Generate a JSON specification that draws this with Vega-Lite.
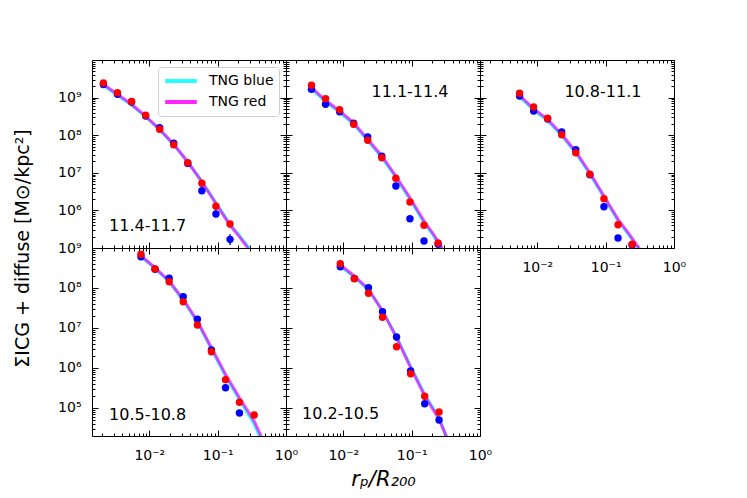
{
  "$schema": "https://vega.github.io/schema/vega-lite/v6.json",
  "description": "Projected ICG + diffuse light surface density profiles in five halo-mass bins, TNG blue vs red.",
  "padding": {"left": 12, "top": 59, "right": 5, "bottom": 5},
  "spacing": 0,
  "bounds": "flush",
  "columns": 3,
  "data": {
    "values": [
      {"p": 1, "s": "TNG blue", "r": 0.002128, "v": 2.11e9},
      {"p": 1, "s": "TNG blue", "r": 0.00342, "v": 1.148e9},
      {"p": 1, "s": "TNG blue", "r": 0.0055, "v": 6.31e8},
      {"p": 1, "s": "TNG blue", "r": 0.00883, "v": 3.09e8},
      {"p": 1, "s": "TNG blue", "r": 0.01416, "v": 1.38e8},
      {"p": 1, "s": "TNG blue", "r": 0.02275, "v": 5.62e7},
      {"p": 1, "s": "TNG blue", "r": 0.03656, "v": 1.95e7},
      {"p": 1, "s": "TNG blue", "r": 0.05875, "v": 5.96e6},
      {"p": 1, "s": "TNG blue", "r": 0.0944, "v": 1.585e6},
      {"p": 1, "s": "TNG blue", "r": 0.1517, "v": 4.32e5},
      {"p": 1, "s": "TNG blue", "r": 0.21, "v": 2.1e5},
      {"p": 1, "s": "TNG blue", "r": 0.2793, "v": 1.07e5},
      {"p": 1, "s": "TNG blue", "r": 0.316, "v": 7.94e4},
      {"p": 1, "s": "TNG red", "r": 0.002128, "v": 2.26e9},
      {"p": 1, "s": "TNG red", "r": 0.00342, "v": 1.224e9},
      {"p": 1, "s": "TNG red", "r": 0.0055, "v": 6.64e8},
      {"p": 1, "s": "TNG red", "r": 0.00883, "v": 3.24e8},
      {"p": 1, "s": "TNG red", "r": 0.01416, "v": 1.436e8},
      {"p": 1, "s": "TNG red", "r": 0.02275, "v": 5.73e7},
      {"p": 1, "s": "TNG red", "r": 0.03656, "v": 1.936e7},
      {"p": 1, "s": "TNG red", "r": 0.05875, "v": 5.79e6},
      {"p": 1, "s": "TNG red", "r": 0.0944, "v": 1.507e6},
      {"p": 1, "s": "TNG red", "r": 0.1517, "v": 4.02e5},
      {"p": 1, "s": "TNG red", "r": 0.21, "v": 1.95e5},
      {"p": 1, "s": "TNG red", "r": 0.2793, "v": 9.77e4},
      {"p": 1, "s": "TNG red", "r": 0.316, "v": 7.08e4},
      {"p": 1, "s": "blue", "r": 0.002128, "v": 2.24e9},
      {"p": 1, "s": "blue", "r": 0.00342, "v": 1.224e9},
      {"p": 1, "s": "blue", "r": 0.0055, "v": 7.6e8},
      {"p": 1, "s": "blue", "r": 0.00883, "v": 3.24e8},
      {"p": 1, "s": "blue", "r": 0.01416, "v": 1.585e8},
      {"p": 1, "s": "blue", "r": 0.02275, "v": 6.17e7},
      {"p": 1, "s": "blue", "r": 0.03656, "v": 1.778e7},
      {"p": 1, "s": "blue", "r": 0.05875, "v": 3.34e6, "lo": 2.78e6, "hi": 4.19e6},
      {"p": 1, "s": "blue", "r": 0.0944, "v": 8.02e5, "lo": 6.6e5, "hi": 1.0e6},
      {"p": 1, "s": "blue", "r": 0.1517, "v": 1.7e5, "lo": 1.2e5, "hi": 2.31e5},
      {"p": 1, "s": "red", "r": 0.002128, "v": 2.44e9},
      {"p": 1, "s": "red", "r": 0.00342, "v": 1.35e9},
      {"p": 1, "s": "red", "r": 0.0055, "v": 7.91e8},
      {"p": 1, "s": "red", "r": 0.00883, "v": 3.38e8},
      {"p": 1, "s": "red", "r": 0.01416, "v": 1.436e8},
      {"p": 1, "s": "red", "r": 0.02275, "v": 5.58e7},
      {"p": 1, "s": "red", "r": 0.03656, "v": 1.858e7},
      {"p": 1, "s": "red", "r": 0.05875, "v": 5.26e6},
      {"p": 1, "s": "red", "r": 0.0944, "v": 1.285e6},
      {"p": 1, "s": "red", "r": 0.1517, "v": 4.35e5},

      {"p": 2, "s": "TNG blue", "r": 0.00342, "v": 1.698e9},
      {"p": 2, "s": "TNG blue", "r": 0.0055, "v": 7.85e8},
      {"p": 2, "s": "TNG blue", "r": 0.00883, "v": 4.07e8},
      {"p": 2, "s": "TNG blue", "r": 0.01416, "v": 1.98e8},
      {"p": 2, "s": "TNG blue", "r": 0.02275, "v": 7.16e7},
      {"p": 2, "s": "TNG blue", "r": 0.03656, "v": 2.57e7},
      {"p": 2, "s": "TNG blue", "r": 0.05875, "v": 7.5e6},
      {"p": 2, "s": "TNG blue", "r": 0.0944, "v": 1.98e6},
      {"p": 2, "s": "TNG blue", "r": 0.1517, "v": 4.7e5},
      {"p": 2, "s": "TNG blue", "r": 0.21, "v": 2.1e5},
      {"p": 2, "s": "TNG blue", "r": 0.2793, "v": 8.91e4},
      {"p": 2, "s": "TNG blue", "r": 0.316, "v": 6.61e4},
      {"p": 2, "s": "TNG red", "r": 0.00342, "v": 1.832e9},
      {"p": 2, "s": "TNG red", "r": 0.0055, "v": 8.47e8},
      {"p": 2, "s": "TNG red", "r": 0.00883, "v": 4.41e8},
      {"p": 2, "s": "TNG red", "r": 0.01416, "v": 2.14e8},
      {"p": 2, "s": "TNG red", "r": 0.02275, "v": 7.76e7},
      {"p": 2, "s": "TNG red", "r": 0.03656, "v": 2.8e7},
      {"p": 2, "s": "TNG red", "r": 0.05875, "v": 8.22e6},
      {"p": 2, "s": "TNG red", "r": 0.0944, "v": 2.18e6},
      {"p": 2, "s": "TNG red", "r": 0.1517, "v": 5.22e5},
      {"p": 2, "s": "TNG red", "r": 0.21, "v": 2.29e5},
      {"p": 2, "s": "TNG red", "r": 0.2793, "v": 9.77e4},
      {"p": 2, "s": "TNG red", "r": 0.316, "v": 7.24e4},
      {"p": 2, "s": "blue", "r": 0.00342, "v": 1.663e9},
      {"p": 2, "s": "blue", "r": 0.0055, "v": 6.64e8},
      {"p": 2, "s": "blue", "r": 0.00883, "v": 4.22e8},
      {"p": 2, "s": "blue", "r": 0.01416, "v": 2.07e8},
      {"p": 2, "s": "blue", "r": 0.02275, "v": 8.95e7},
      {"p": 2, "s": "blue", "r": 0.03656, "v": 2.75e7},
      {"p": 2, "s": "blue", "r": 0.05875, "v": 4.46e6},
      {"p": 2, "s": "blue", "r": 0.0944, "v": 6.01e5},
      {"p": 2, "s": "blue", "r": 0.1517, "v": 1.535e5},
      {"p": 2, "s": "blue", "r": 0.2438, "v": 1.26e5},
      {"p": 2, "s": "red", "r": 0.00342, "v": 2.12e9},
      {"p": 2, "s": "red", "r": 0.0055, "v": 9.35e8},
      {"p": 2, "s": "red", "r": 0.00883, "v": 4.76e8},
      {"p": 2, "s": "red", "r": 0.01416, "v": 1.95e8},
      {"p": 2, "s": "red", "r": 0.02275, "v": 7.31e7},
      {"p": 2, "s": "red", "r": 0.03656, "v": 2.52e7},
      {"p": 2, "s": "red", "r": 0.05875, "v": 7.14e6},
      {"p": 2, "s": "red", "r": 0.0944, "v": 1.671e6},
      {"p": 2, "s": "red", "r": 0.1517, "v": 4.02e5},
      {"p": 2, "s": "red", "r": 0.2438, "v": 1.358e5},

      {"p": 3, "s": "TNG blue", "r": 0.0055, "v": 1.062e9},
      {"p": 3, "s": "TNG blue", "r": 0.00883, "v": 4.68e8},
      {"p": 3, "s": "TNG blue", "r": 0.01416, "v": 2.45e8},
      {"p": 3, "s": "TNG blue", "r": 0.02275, "v": 9.75e7},
      {"p": 3, "s": "TNG blue", "r": 0.03656, "v": 3.36e7},
      {"p": 3, "s": "TNG blue", "r": 0.05875, "v": 9.3e6},
      {"p": 3, "s": "TNG blue", "r": 0.0944, "v": 2.23e6},
      {"p": 3, "s": "TNG blue", "r": 0.1517, "v": 5.35e5},
      {"p": 3, "s": "TNG blue", "r": 0.22, "v": 2.2e5},
      {"p": 3, "s": "TNG blue", "r": 0.309, "v": 9.0e4},
      {"p": 3, "s": "TNG blue", "r": 0.35, "v": 6.5e4},
      {"p": 3, "s": "TNG red", "r": 0.0055, "v": 1.151e9},
      {"p": 3, "s": "TNG red", "r": 0.00883, "v": 5.07e8},
      {"p": 3, "s": "TNG red", "r": 0.01416, "v": 2.65e8},
      {"p": 3, "s": "TNG red", "r": 0.02275, "v": 1.057e8},
      {"p": 3, "s": "TNG red", "r": 0.03656, "v": 3.64e7},
      {"p": 3, "s": "TNG red", "r": 0.05875, "v": 1.007e7},
      {"p": 3, "s": "TNG red", "r": 0.0944, "v": 2.415e6},
      {"p": 3, "s": "TNG red", "r": 0.1517, "v": 5.79e5},
      {"p": 3, "s": "TNG red", "r": 0.22, "v": 2.38e5},
      {"p": 3, "s": "TNG red", "r": 0.309, "v": 9.77e4},
      {"p": 3, "s": "TNG red", "r": 0.35, "v": 7.08e4},
      {"p": 3, "s": "blue", "r": 0.0055, "v": 1.104e9},
      {"p": 3, "s": "blue", "r": 0.00883, "v": 4.41e8},
      {"p": 3, "s": "blue", "r": 0.01416, "v": 2.69e8},
      {"p": 3, "s": "blue", "r": 0.02275, "v": 1.216e8},
      {"p": 3, "s": "blue", "r": 0.03656, "v": 4.11e7},
      {"p": 3, "s": "blue", "r": 0.05875, "v": 8.91e6},
      {"p": 3, "s": "blue", "r": 0.0944, "v": 1.253e6},
      {"p": 3, "s": "blue", "r": 0.1517, "v": 1.845e5},
      {"p": 3, "s": "blue", "r": 0.2438, "v": 1.2e5},
      {"p": 3, "s": "red", "r": 0.0055, "v": 1.3e9},
      {"p": 3, "s": "red", "r": 0.00883, "v": 5.62e8},
      {"p": 3, "s": "red", "r": 0.01416, "v": 2.81e8},
      {"p": 3, "s": "red", "r": 0.02275, "v": 1.03e8},
      {"p": 3, "s": "red", "r": 0.03656, "v": 3.42e7},
      {"p": 3, "s": "red", "r": 0.05875, "v": 9.12e6},
      {"p": 3, "s": "red", "r": 0.0944, "v": 2.05e6},
      {"p": 3, "s": "red", "r": 0.1517, "v": 4.17e5},
      {"p": 3, "s": "red", "r": 0.2438, "v": 1.253e5},

      {"p": 4, "s": "TNG blue", "r": 0.00755, "v": 6.1e8},
      {"p": 4, "s": "TNG blue", "r": 0.01213, "v": 3.1e8},
      {"p": 4, "s": "TNG blue", "r": 0.0195, "v": 1.43e8},
      {"p": 4, "s": "TNG blue", "r": 0.03133, "v": 4.95e7},
      {"p": 4, "s": "TNG blue", "r": 0.0505, "v": 1.4e7},
      {"p": 4, "s": "TNG blue", "r": 0.0811, "v": 2.98e6},
      {"p": 4, "s": "TNG blue", "r": 0.1303, "v": 6.31e5},
      {"p": 4, "s": "TNG blue", "r": 0.2084, "v": 1.6e5},
      {"p": 4, "s": "TNG blue", "r": 0.342, "v": 4.0e4},
      {"p": 4, "s": "TNG blue", "r": 0.4395, "v": 1.5e4},
      {"p": 4, "s": "TNG red", "r": 0.00755, "v": 6.31e8},
      {"p": 4, "s": "TNG red", "r": 0.01213, "v": 3.22e8},
      {"p": 4, "s": "TNG red", "r": 0.0195, "v": 1.496e8},
      {"p": 4, "s": "TNG red", "r": 0.03133, "v": 5.22e7},
      {"p": 4, "s": "TNG red", "r": 0.0505, "v": 1.496e7},
      {"p": 4, "s": "TNG red", "r": 0.0811, "v": 3.22e6},
      {"p": 4, "s": "TNG red", "r": 0.1303, "v": 6.97e5},
      {"p": 4, "s": "TNG red", "r": 0.2084, "v": 1.811e5},
      {"p": 4, "s": "TNG red", "r": 0.342, "v": 4.73e4},
      {"p": 4, "s": "TNG red", "r": 0.4395, "v": 1.884e4},
      {"p": 4, "s": "blue", "r": 0.00755, "v": 6.07e8},
      {"p": 4, "s": "blue", "r": 0.01213, "v": 2.95e8},
      {"p": 4, "s": "blue", "r": 0.0195, "v": 1.75e8},
      {"p": 4, "s": "blue", "r": 0.03133, "v": 6.07e7},
      {"p": 4, "s": "blue", "r": 0.0505, "v": 1.652e7},
      {"p": 4, "s": "blue", "r": 0.0811, "v": 2.82e6},
      {"p": 4, "s": "blue", "r": 0.1303, "v": 3.22e5},
      {"p": 4, "s": "blue", "r": 0.2084, "v": 7.5e4},
      {"p": 4, "s": "red", "r": 0.00755, "v": 6.95e8},
      {"p": 4, "s": "red", "r": 0.01213, "v": 2.985e8},
      {"p": 4, "s": "red", "r": 0.0195, "v": 1.439e8},
      {"p": 4, "s": "red", "r": 0.03133, "v": 4.55e7},
      {"p": 4, "s": "red", "r": 0.0505, "v": 1.189e7},
      {"p": 4, "s": "red", "r": 0.0811, "v": 2.56e6},
      {"p": 4, "s": "red", "r": 0.1303, "v": 5.11e5},
      {"p": 4, "s": "red", "r": 0.2084, "v": 1.39e5},
      {"p": 4, "s": "red", "r": 0.342, "v": 6.68e4},

      {"p": 5, "s": "TNG blue", "r": 0.00904, "v": 3.5e8},
      {"p": 5, "s": "TNG blue", "r": 0.01452, "v": 1.9e8},
      {"p": 5, "s": "TNG blue", "r": 0.02333, "v": 9.0e7},
      {"p": 5, "s": "TNG blue", "r": 0.0375, "v": 2.7e7},
      {"p": 5, "s": "TNG blue", "r": 0.0601, "v": 6.0e6},
      {"p": 5, "s": "TNG blue", "r": 0.0966, "v": 1.1e6},
      {"p": 5, "s": "TNG blue", "r": 0.1552, "v": 2.2e5},
      {"p": 5, "s": "TNG blue", "r": 0.2518, "v": 5.6e4},
      {"p": 5, "s": "TNG blue", "r": 0.3236, "v": 1.95e4},
      {"p": 5, "s": "TNG red", "r": 0.00904, "v": 3.76e8},
      {"p": 5, "s": "TNG red", "r": 0.01452, "v": 2.0e8},
      {"p": 5, "s": "TNG red", "r": 0.02333, "v": 9.29e7},
      {"p": 5, "s": "TNG red", "r": 0.0375, "v": 2.66e7},
      {"p": 5, "s": "TNG red", "r": 0.0601, "v": 5.73e6},
      {"p": 5, "s": "TNG red", "r": 0.0966, "v": 1.019e6},
      {"p": 5, "s": "TNG red", "r": 0.1552, "v": 2.0e5},
      {"p": 5, "s": "TNG red", "r": 0.2518, "v": 5.22e4},
      {"p": 5, "s": "TNG red", "r": 0.3236, "v": 1.884e4},
      {"p": 5, "s": "blue", "r": 0.00904, "v": 3.41e8},
      {"p": 5, "s": "blue", "r": 0.01452, "v": 1.74e8},
      {"p": 5, "s": "blue", "r": 0.02333, "v": 1.019e8},
      {"p": 5, "s": "blue", "r": 0.0375, "v": 2.56e7},
      {"p": 5, "s": "blue", "r": 0.0601, "v": 5.96e6},
      {"p": 5, "s": "blue", "r": 0.0966, "v": 8.41e5},
      {"p": 5, "s": "blue", "r": 0.1552, "v": 1.282e5},
      {"p": 5, "s": "blue", "r": 0.2518, "v": 5.01e4},
      {"p": 5, "s": "red", "r": 0.00904, "v": 4.06e8},
      {"p": 5, "s": "red", "r": 0.01452, "v": 1.71e8},
      {"p": 5, "s": "red", "r": 0.02333, "v": 7.38e7},
      {"p": 5, "s": "red", "r": 0.0375, "v": 1.854e7},
      {"p": 5, "s": "red", "r": 0.0601, "v": 3.41e6},
      {"p": 5, "s": "red", "r": 0.0966, "v": 7.21e5},
      {"p": 5, "s": "red", "r": 0.1552, "v": 1.963e5},
      {"p": 5, "s": "red", "r": 0.2518, "v": 7.94e4}
    ]
  },
  "concat": [
    {
      "width": 194,
      "height": 188,
      "resolve": {"axis": {"x": "independent", "y": "independent"}},
      "layer": [
        {
          "transform": [{"filter": "datum.p == 1 && datum.s == 'TNG blue'"}],
          "mark": {"type": "line", "strokeWidth": 3, "opacity": 0.85, "clip": true},
          "encoding": {
            "x": {"field": "r", "type": "quantitative", "scale": {"type": "log", "domain": [0.00145, 1], "nice": false},
              "axis": {"orient": "bottom", "labels": false, "title": null, "values": [0.01, 0.1, 1], "tickSize": -6}},
            "y": {"field": "v", "type": "quantitative", "scale": {"type": "log", "domain": [1e5, 1e10], "nice": false},
              "axis": {"orient": "left", "values": [1e6, 1e7, 1e8, 1e9], "tickSize": -6, "labelPadding": 17,
                "labelExpr": "datum.value == 1e6 ? '10⁶' : datum.value == 1e7 ? '10⁷' : datum.value == 1e8 ? '10⁸' : '10⁹'",
                "title": "ΣICG + diffuse [M⊙/kpc²]", "titleFontSize": 19, "titleAngle": 270, "titleX": -70, "titleY": 188, "titleAlign": "center", "titleBaseline": "middle"}},
            "color": {"field": "s", "type": "nominal", "title": null,
              "scale": {"domain": ["TNG blue", "TNG red"], "range": ["#00ffff", "#ff00ff"]},
              "legend": {"orient": "none", "legendX": 66, "legendY": 7, "symbolType": "stroke", "symbolSize": 1000, "symbolStrokeWidth": 4, "labelFontSize": 14, "labelOffset": 10, "padding": 5, "strokeColor": "#d0d0d0", "fillColor": "white", "cornerRadius": 3, "clipHeight": 18, "rowPadding": 3}}
          }
        },
        {
          "transform": [{"filter": "datum.p == 1 && datum.s == 'TNG red'"}],
          "mark": {"type": "line", "strokeWidth": 3, "opacity": 0.7, "clip": true},
          "encoding": {
            "x": {"field": "r", "type": "quantitative", "axis": {"orient": "top", "labels": false, "title": null, "values": [0.01, 0.1, 1], "tickSize": -6}},
            "y": {"field": "v", "type": "quantitative", "axis": {"orient": "right", "labels": false, "title": null, "values": [1e6, 1e7, 1e8, 1e9], "tickSize": -6}},
            "color": {"field": "s", "type": "nominal", "title": null,
              "scale": {"domain": ["TNG blue", "TNG red"], "range": ["#00ffff", "#ff00ff"]},
              "legend": {"orient": "none", "legendX": 66, "legendY": 7, "symbolType": "stroke", "symbolSize": 1000, "symbolStrokeWidth": 4, "labelFontSize": 14, "labelOffset": 10, "padding": 5, "strokeColor": "#d0d0d0", "fillColor": "white", "cornerRadius": 3, "clipHeight": 18, "rowPadding": 3}}
          }
        },
        {
          "transform": [{"filter": "datum.p == 1 && datum.s == 'blue' && isValid(datum.lo)"}],
          "mark": {"type": "rule", "color": "#0000ff", "strokeWidth": 1.5},
          "encoding": {
            "x": {"field": "r", "type": "quantitative", "axis": null},
            "y": {"field": "lo", "type": "quantitative", "axis": null},
            "y2": {"field": "hi"}
          }
        },
        {
          "transform": [{"filter": "datum.p == 1 && datum.s == 'blue'"}],
          "mark": {"type": "circle", "color": "#0000ff", "size": 55, "opacity": 1},
          "encoding": {
            "x": {"field": "r", "type": "quantitative", "axis": {"orient": "bottom", "labels": false, "title": null, "tickSize": -3, "values": [0.002,0.003,0.004,0.005,0.006,0.007,0.008,0.009,0.02,0.03,0.04,0.05,0.06,0.07,0.08,0.09,0.2,0.3,0.4,0.5,0.6,0.7,0.8,0.9]}},
            "y": {"field": "v", "type": "quantitative", "axis": {"orient": "left", "labels": false, "title": null, "tickSize": -3, "values": [2e5,3e5,4e5,5e5,6e5,7e5,8e5,9e5,2e6,3e6,4e6,5e6,6e6,7e6,8e6,9e6,2e7,3e7,4e7,5e7,6e7,7e7,8e7,9e7,2e8,3e8,4e8,5e8,6e8,7e8,8e8,9e8,2e9,3e9,4e9,5e9,6e9,7e9,8e9,9e9]}}
          }
        },
        {
          "transform": [{"filter": "datum.p == 1 && datum.s == 'red'"}],
          "mark": {"type": "circle", "color": "#ff0000", "size": 55, "opacity": 1},
          "encoding": {
            "x": {"field": "r", "type": "quantitative", "axis": {"orient": "top", "labels": false, "title": null, "tickSize": -3, "values": [0.002,0.003,0.004,0.005,0.006,0.007,0.008,0.009,0.02,0.03,0.04,0.05,0.06,0.07,0.08,0.09,0.2,0.3,0.4,0.5,0.6,0.7,0.8,0.9]}},
            "y": {"field": "v", "type": "quantitative", "axis": {"orient": "right", "labels": false, "title": null, "tickSize": -3, "values": [2e5,3e5,4e5,5e5,6e5,7e5,8e5,9e5,2e6,3e6,4e6,5e6,6e6,7e6,8e6,9e6,2e7,3e7,4e7,5e7,6e7,7e7,8e7,9e7,2e8,3e8,4e8,5e8,6e8,7e8,8e8,9e8,2e9,3e9,4e9,5e9,6e9,7e9,8e9,9e9]}}
          }
        },
        {
          "data": {"values": [{}]},
          "mark": {"type": "text", "align": "left", "baseline": "middle", "fontSize": 16, "color": "black"},
          "encoding": {"x": {"datum": 0.00258, "type": "quantitative", "axis": null}, "y": {"datum": 3.85e5, "type": "quantitative", "axis": null}, "text": {"value": "11.4-11.7"}}
        }
      ]
    },
    {
      "width": 194,
      "height": 188,
      "resolve": {"axis": {"x": "independent", "y": "independent"}},
      "layer": [
        {
          "transform": [{"filter": "datum.p == 2 && datum.s == 'TNG blue'"}],
          "mark": {"type": "line", "color": "#00ffff", "strokeWidth": 3, "opacity": 0.85, "clip": true},
          "encoding": {
            "x": {"field": "r", "type": "quantitative", "scale": {"type": "log", "domain": [0.00145, 1], "nice": false},
              "axis": {"orient": "bottom", "labels": false, "title": null, "values": [0.01, 0.1, 1], "tickSize": -6}},
            "y": {"field": "v", "type": "quantitative", "scale": {"type": "log", "domain": [1e5, 1e10], "nice": false},
              "axis": {"orient": "left", "labels": false, "title": null, "values": [1e6, 1e7, 1e8, 1e9], "tickSize": -6}}
          }
        },
        {
          "transform": [{"filter": "datum.p == 2 && datum.s == 'TNG red'"}],
          "mark": {"type": "line", "color": "#ff00ff", "strokeWidth": 3, "opacity": 0.7, "clip": true},
          "encoding": {
            "x": {"field": "r", "type": "quantitative", "axis": {"orient": "top", "labels": false, "title": null, "values": [0.01, 0.1, 1], "tickSize": -6}},
            "y": {"field": "v", "type": "quantitative", "axis": {"orient": "right", "labels": false, "title": null, "values": [1e6, 1e7, 1e8, 1e9], "tickSize": -6}}
          }
        },
        {
          "transform": [{"filter": "datum.p == 2 && datum.s == 'blue'"}],
          "mark": {"type": "circle", "color": "#0000ff", "size": 55, "opacity": 1},
          "encoding": {
            "x": {"field": "r", "type": "quantitative", "axis": {"orient": "bottom", "labels": false, "title": null, "tickSize": -3, "values": [0.002,0.003,0.004,0.005,0.006,0.007,0.008,0.009,0.02,0.03,0.04,0.05,0.06,0.07,0.08,0.09,0.2,0.3,0.4,0.5,0.6,0.7,0.8,0.9]}},
            "y": {"field": "v", "type": "quantitative", "axis": {"orient": "left", "labels": false, "title": null, "tickSize": -3, "values": [2e5,3e5,4e5,5e5,6e5,7e5,8e5,9e5,2e6,3e6,4e6,5e6,6e6,7e6,8e6,9e6,2e7,3e7,4e7,5e7,6e7,7e7,8e7,9e7,2e8,3e8,4e8,5e8,6e8,7e8,8e8,9e8,2e9,3e9,4e9,5e9,6e9,7e9,8e9,9e9]}}
          }
        },
        {
          "transform": [{"filter": "datum.p == 2 && datum.s == 'red'"}],
          "mark": {"type": "circle", "color": "#ff0000", "size": 55, "opacity": 1},
          "encoding": {
            "x": {"field": "r", "type": "quantitative", "axis": {"orient": "top", "labels": false, "title": null, "tickSize": -3, "values": [0.002,0.003,0.004,0.005,0.006,0.007,0.008,0.009,0.02,0.03,0.04,0.05,0.06,0.07,0.08,0.09,0.2,0.3,0.4,0.5,0.6,0.7,0.8,0.9]}},
            "y": {"field": "v", "type": "quantitative", "axis": {"orient": "right", "labels": false, "title": null, "tickSize": -3, "values": [2e5,3e5,4e5,5e5,6e5,7e5,8e5,9e5,2e6,3e6,4e6,5e6,6e6,7e6,8e6,9e6,2e7,3e7,4e7,5e7,6e7,7e7,8e7,9e7,2e8,3e8,4e8,5e8,6e8,7e8,8e8,9e8,2e9,3e9,4e9,5e9,6e9,7e9,8e9,9e9]}}
          }
        },
        {
          "data": {"values": [{}]},
          "mark": {"type": "text", "align": "left", "baseline": "middle", "fontSize": 16, "color": "black"},
          "encoding": {"x": {"datum": 0.0258, "type": "quantitative", "axis": null}, "y": {"datum": 1.41e9, "type": "quantitative", "axis": null}, "text": {"value": "11.1-11.4"}}
        }
      ]
    },
    {
      "width": 194,
      "height": 188,
      "resolve": {"axis": {"x": "independent", "y": "independent"}},
      "layer": [
        {
          "transform": [{"filter": "datum.p == 3 && datum.s == 'TNG blue'"}],
          "mark": {"type": "line", "color": "#00ffff", "strokeWidth": 3, "opacity": 0.85, "clip": true},
          "encoding": {
            "x": {"field": "r", "type": "quantitative", "scale": {"type": "log", "domain": [0.00145, 1], "nice": false},
              "axis": {"orient": "bottom", "title": null, "values": [0.01, 0.1, 1], "tickSize": -6, "labelPadding": 18,
                "labelExpr": "datum.value == 0.01 ? '10⁻²' : datum.value == 0.1 ? '10⁻¹' : '10⁰'"}},
            "y": {"field": "v", "type": "quantitative", "scale": {"type": "log", "domain": [1e5, 1e10], "nice": false},
              "axis": {"orient": "left", "labels": false, "title": null, "values": [1e6, 1e7, 1e8, 1e9], "tickSize": -6}}
          }
        },
        {
          "transform": [{"filter": "datum.p == 3 && datum.s == 'TNG red'"}],
          "mark": {"type": "line", "color": "#ff00ff", "strokeWidth": 3, "opacity": 0.7, "clip": true},
          "encoding": {
            "x": {"field": "r", "type": "quantitative", "axis": {"orient": "top", "labels": false, "title": null, "values": [0.01, 0.1, 1], "tickSize": -6}},
            "y": {"field": "v", "type": "quantitative", "axis": {"orient": "right", "labels": false, "title": null, "values": [1e6, 1e7, 1e8, 1e9], "tickSize": -6}}
          }
        },
        {
          "transform": [{"filter": "datum.p == 3 && datum.s == 'blue'"}],
          "mark": {"type": "circle", "color": "#0000ff", "size": 55, "opacity": 1},
          "encoding": {
            "x": {"field": "r", "type": "quantitative", "axis": {"orient": "bottom", "labels": false, "title": null, "tickSize": -3, "values": [0.002,0.003,0.004,0.005,0.006,0.007,0.008,0.009,0.02,0.03,0.04,0.05,0.06,0.07,0.08,0.09,0.2,0.3,0.4,0.5,0.6,0.7,0.8,0.9]}},
            "y": {"field": "v", "type": "quantitative", "axis": {"orient": "left", "labels": false, "title": null, "tickSize": -3, "values": [2e5,3e5,4e5,5e5,6e5,7e5,8e5,9e5,2e6,3e6,4e6,5e6,6e6,7e6,8e6,9e6,2e7,3e7,4e7,5e7,6e7,7e7,8e7,9e7,2e8,3e8,4e8,5e8,6e8,7e8,8e8,9e8,2e9,3e9,4e9,5e9,6e9,7e9,8e9,9e9]}}
          }
        },
        {
          "transform": [{"filter": "datum.p == 3 && datum.s == 'red'"}],
          "mark": {"type": "circle", "color": "#ff0000", "size": 55, "opacity": 1},
          "encoding": {
            "x": {"field": "r", "type": "quantitative", "axis": {"orient": "top", "labels": false, "title": null, "tickSize": -3, "values": [0.002,0.003,0.004,0.005,0.006,0.007,0.008,0.009,0.02,0.03,0.04,0.05,0.06,0.07,0.08,0.09,0.2,0.3,0.4,0.5,0.6,0.7,0.8,0.9]}},
            "y": {"field": "v", "type": "quantitative", "axis": {"orient": "right", "labels": false, "title": null, "tickSize": -3, "values": [2e5,3e5,4e5,5e5,6e5,7e5,8e5,9e5,2e6,3e6,4e6,5e6,6e6,7e6,8e6,9e6,2e7,3e7,4e7,5e7,6e7,7e7,8e7,9e7,2e8,3e8,4e8,5e8,6e8,7e8,8e8,9e8,2e9,3e9,4e9,5e9,6e9,7e9,8e9,9e9]}}
          }
        },
        {
          "data": {"values": [{}]},
          "mark": {"type": "text", "align": "left", "baseline": "middle", "fontSize": 16, "color": "black"},
          "encoding": {"x": {"datum": 0.0249, "type": "quantitative", "axis": null}, "y": {"datum": 1.41e9, "type": "quantitative", "axis": null}, "text": {"value": "10.8-11.1"}}
        }
      ]
    },
    {
      "width": 194,
      "height": 188,
      "resolve": {"axis": {"x": "independent", "y": "independent"}},
      "layer": [
        {
          "transform": [{"filter": "datum.p == 4 && datum.s == 'TNG blue'"}],
          "mark": {"type": "line", "color": "#00ffff", "strokeWidth": 3, "opacity": 0.85, "clip": true},
          "encoding": {
            "x": {"field": "r", "type": "quantitative", "scale": {"type": "log", "domain": [0.00145, 1], "nice": false},
              "axis": {"orient": "bottom", "title": null, "values": [0.01, 0.1, 1], "tickSize": -6, "labelPadding": 18,
                "labelExpr": "datum.value == 0.01 ? '10⁻²' : datum.value == 0.1 ? '10⁻¹' : '10⁰'"}},
            "y": {"field": "v", "type": "quantitative", "scale": {"type": "log", "domain": [19950, 1e9], "nice": false},
              "axis": {"orient": "left", "title": null, "values": [1e5, 1e6, 1e7, 1e8, 1e9], "tickSize": -6, "labelPadding": 17,
                "labelExpr": "datum.value == 1e5 ? '10⁵' : datum.value == 1e6 ? '10⁶' : datum.value == 1e7 ? '10⁷' : datum.value == 1e8 ? '10⁸' : '10⁹'"}}
          }
        },
        {
          "transform": [{"filter": "datum.p == 4 && datum.s == 'TNG red'"}],
          "mark": {"type": "line", "color": "#ff00ff", "strokeWidth": 3, "opacity": 0.7, "clip": true},
          "encoding": {
            "x": {"field": "r", "type": "quantitative", "axis": {"orient": "top", "labels": false, "title": null, "values": [0.01, 0.1, 1], "tickSize": -6}},
            "y": {"field": "v", "type": "quantitative", "axis": {"orient": "right", "labels": false, "title": null, "values": [1e5, 1e6, 1e7, 1e8, 1e9], "tickSize": -6}}
          }
        },
        {
          "transform": [{"filter": "datum.p == 4 && datum.s == 'blue'"}],
          "mark": {"type": "circle", "color": "#0000ff", "size": 55, "opacity": 1},
          "encoding": {
            "x": {"field": "r", "type": "quantitative", "axis": {"orient": "bottom", "labels": false, "title": null, "tickSize": -3, "values": [0.002,0.003,0.004,0.005,0.006,0.007,0.008,0.009,0.02,0.03,0.04,0.05,0.06,0.07,0.08,0.09,0.2,0.3,0.4,0.5,0.6,0.7,0.8,0.9]}},
            "y": {"field": "v", "type": "quantitative", "axis": {"orient": "left", "labels": false, "title": null, "tickSize": -3, "values": [3e4,4e4,5e4,6e4,7e4,8e4,9e4,2e5,3e5,4e5,5e5,6e5,7e5,8e5,9e5,2e6,3e6,4e6,5e6,6e6,7e6,8e6,9e6,2e7,3e7,4e7,5e7,6e7,7e7,8e7,9e7,2e8,3e8,4e8,5e8,6e8,7e8,8e8,9e8]}}
          }
        },
        {
          "transform": [{"filter": "datum.p == 4 && datum.s == 'red'"}],
          "mark": {"type": "circle", "color": "#ff0000", "size": 55, "opacity": 1},
          "encoding": {
            "x": {"field": "r", "type": "quantitative", "axis": {"orient": "top", "labels": false, "title": null, "tickSize": -3, "values": [0.002,0.003,0.004,0.005,0.006,0.007,0.008,0.009,0.02,0.03,0.04,0.05,0.06,0.07,0.08,0.09,0.2,0.3,0.4,0.5,0.6,0.7,0.8,0.9]}},
            "y": {"field": "v", "type": "quantitative", "axis": {"orient": "right", "labels": false, "title": null, "tickSize": -3, "values": [3e4,4e4,5e4,6e4,7e4,8e4,9e4,2e5,3e5,4e5,5e5,6e5,7e5,8e5,9e5,2e6,3e6,4e6,5e6,6e6,7e6,8e6,9e6,2e7,3e7,4e7,5e7,6e7,7e7,8e7,9e7,2e8,3e8,4e8,5e8,6e8,7e8,8e8,9e8]}}
          }
        },
        {
          "data": {"values": [{}]},
          "mark": {"type": "text", "align": "left", "baseline": "middle", "fontSize": 16, "color": "black"},
          "encoding": {"x": {"datum": 0.00258, "type": "quantitative", "axis": null}, "y": {"datum": 6.68e4, "type": "quantitative", "axis": null}, "text": {"value": "10.5-10.8"}}
        }
      ]
    },
    {
      "width": 194,
      "height": 188,
      "resolve": {"axis": {"x": "independent", "y": "independent"}},
      "layer": [
        {
          "transform": [{"filter": "datum.p == 5 && datum.s == 'TNG blue'"}],
          "mark": {"type": "line", "color": "#00ffff", "strokeWidth": 3, "opacity": 0.85, "clip": true},
          "encoding": {
            "x": {"field": "r", "type": "quantitative", "scale": {"type": "log", "domain": [0.00145, 1], "nice": false},
              "axis": {"orient": "bottom", "values": [0.01, 0.1, 1], "tickSize": -6, "labelPadding": 18,
                "labelExpr": "datum.value == 0.01 ? '10⁻²' : datum.value == 0.1 ? '10⁻¹' : '10⁰'",
                "title": "rₚ/R₂₀₀", "titleFontSize": 21, "titleFontStyle": "italic", "titlePadding": 6}},
            "y": {"field": "v", "type": "quantitative", "scale": {"type": "log", "domain": [19950, 1e9], "nice": false},
              "axis": {"orient": "left", "labels": false, "title": null, "values": [1e5, 1e6, 1e7, 1e8, 1e9], "tickSize": -6}}
          }
        },
        {
          "transform": [{"filter": "datum.p == 5 && datum.s == 'TNG red'"}],
          "mark": {"type": "line", "color": "#ff00ff", "strokeWidth": 3, "opacity": 0.7, "clip": true},
          "encoding": {
            "x": {"field": "r", "type": "quantitative", "axis": {"orient": "top", "labels": false, "title": null, "values": [0.01, 0.1, 1], "tickSize": -6}},
            "y": {"field": "v", "type": "quantitative", "axis": {"orient": "right", "labels": false, "title": null, "values": [1e5, 1e6, 1e7, 1e8, 1e9], "tickSize": -6}}
          }
        },
        {
          "transform": [{"filter": "datum.p == 5 && datum.s == 'blue'"}],
          "mark": {"type": "circle", "color": "#0000ff", "size": 55, "opacity": 1},
          "encoding": {
            "x": {"field": "r", "type": "quantitative", "axis": {"orient": "bottom", "labels": false, "title": null, "tickSize": -3, "values": [0.002,0.003,0.004,0.005,0.006,0.007,0.008,0.009,0.02,0.03,0.04,0.05,0.06,0.07,0.08,0.09,0.2,0.3,0.4,0.5,0.6,0.7,0.8,0.9]}},
            "y": {"field": "v", "type": "quantitative", "axis": {"orient": "left", "labels": false, "title": null, "tickSize": -3, "values": [3e4,4e4,5e4,6e4,7e4,8e4,9e4,2e5,3e5,4e5,5e5,6e5,7e5,8e5,9e5,2e6,3e6,4e6,5e6,6e6,7e6,8e6,9e6,2e7,3e7,4e7,5e7,6e7,7e7,8e7,9e7,2e8,3e8,4e8,5e8,6e8,7e8,8e8,9e8]}}
          }
        },
        {
          "transform": [{"filter": "datum.p == 5 && datum.s == 'red'"}],
          "mark": {"type": "circle", "color": "#ff0000", "size": 55, "opacity": 1},
          "encoding": {
            "x": {"field": "r", "type": "quantitative", "axis": {"orient": "top", "labels": false, "title": null, "tickSize": -3, "values": [0.002,0.003,0.004,0.005,0.006,0.007,0.008,0.009,0.02,0.03,0.04,0.05,0.06,0.07,0.08,0.09,0.2,0.3,0.4,0.5,0.6,0.7,0.8,0.9]}},
            "y": {"field": "v", "type": "quantitative", "axis": {"orient": "right", "labels": false, "title": null, "tickSize": -3, "values": [3e4,4e4,5e4,6e4,7e4,8e4,9e4,2e5,3e5,4e5,5e5,6e5,7e5,8e5,9e5,2e6,3e6,4e6,5e6,6e6,7e6,8e6,9e6,2e7,3e7,4e7,5e7,6e7,7e7,8e7,9e7,2e8,3e8,4e8,5e8,6e8,7e8,8e8,9e8]}}
          }
        },
        {
          "data": {"values": [{}]},
          "mark": {"type": "text", "align": "left", "baseline": "middle", "fontSize": 16, "color": "black"},
          "encoding": {"x": {"datum": 0.00249, "type": "quantitative", "axis": null}, "y": {"datum": 7.1e4, "type": "quantitative", "axis": null}, "text": {"value": "10.2-10.5"}}
        }
      ]
    }
  ],
  "config": {
    "font": "DejaVu Sans",
    "view": {"stroke": "black", "strokeWidth": 1},
    "axis": {
      "domain": false, "grid": false, "labelFlush": false, "labelOverlap": false, "labelPadding": 9,
      "tickColor": "black", "tickWidth": 1, "labelFont": "DejaVu Sans", "labelFontSize": 14, "labelColor": "black",
      "titleFont": "DejaVu Sans", "titleColor": "black", "titleFontWeight": "normal"
    },
    "legend": {"labelFont": "DejaVu Sans", "labelColor": "black"}
  }
}
